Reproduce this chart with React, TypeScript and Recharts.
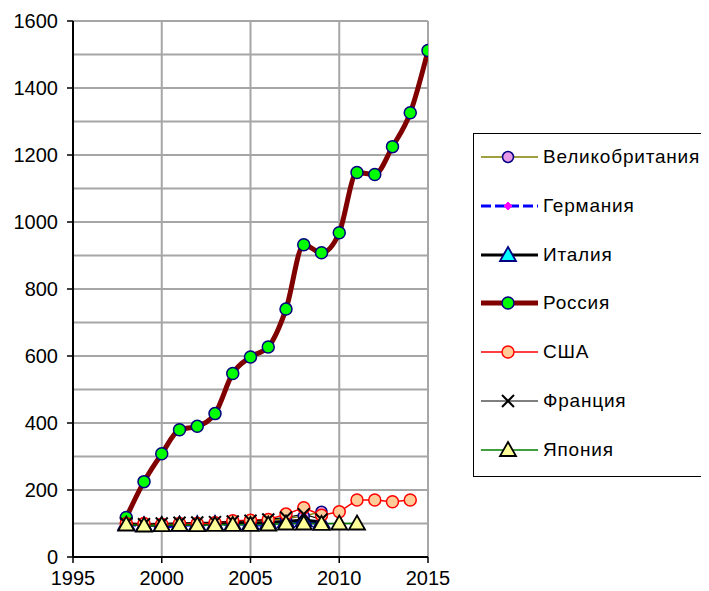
import React from 'react';
import { LineChart, Line, XAxis, YAxis, CartesianGrid } from 'recharts';

const years = [1998, 1999, 2000, 2001, 2002, 2003, 2004, 2005, 2006, 2007, 2008, 2009, 2010, 2011, 2012, 2013, 2014, 2015];

const uk = [100, 98, 97, 99, 100, 101, 104, 107, 110, 115, 122, 135];
const germany = [100, 90, 88, 95, 96, 97, 98, 99, 92, 100, 105, 100];
const italy = [100, 95, 95, 97, 98, 99, 100, 101, 103, 107, 110, 105];
const russia = [118, 225, 308, 380, 390, 428, 548, 597, 627, 740, 932, 908, 968, 1148, 1142, 1225, 1326, 1512];
const usa = [100, 100, 98, 100, 100, 102, 108, 110, 112, 128, 147, 125, 135, 170, 170, 165, 170];
const france = [100, 98, 100, 102, 103, 104, 106, 108, 112, 118, 128, 112];
const japan = [97, 94, 95, 96, 95, 96, 96, 96, 97, 100, 100, 99, 100, 100];

const xTicks = [1995, 2000, 2005, 2010, 2015];
const yTicks = [0, 200, 400, 600, 800, 1000, 1200, 1400, 1600];
const gridX = [2000, 2005, 2010, 2015];
const gridY = [100, 200, 300, 400, 500, 600, 700, 800, 900, 1000, 1100, 1200, 1300, 1400, 1500, 1600];

const data = years.map((year, i) => ({
    year,
    uk: uk[i],
    germany: germany[i],
    italy: italy[i],
    russia: russia[i],
    usa: usa[i],
    france: france[i],
    japan: japan[i],
}));

type MarkerKind = 'circle' | 'diamond' | 'triangle' | 'cross';

interface SeriesStyle {
    key: string;
    name: string;
    stroke: string;
    width: number;
    dash?: string;
    marker: MarkerKind;
    fill: string;
    edge: string;
    size: number;
    smooth?: boolean;
}

const FONT = '"Liberation Sans", Arial, sans-serif';

const SERIES: SeriesStyle[] = [
    { key: 'uk', name: 'Великобритания', stroke: '#808000', width: 1.5, marker: 'circle', fill: '#e699e6', edge: '#000080', size: 5.5 },
    { key: 'germany', name: 'Германия', stroke: '#0000ff', width: 3, dash: '10 4', marker: 'diamond', fill: '#ff00ff', edge: '#ff00ff', size: 4 },
    { key: 'italy', name: 'Италия', stroke: '#000000', width: 3, marker: 'triangle', fill: '#00ffff', edge: '#000080', size: 8 },
    { key: 'russia', name: 'Россия', stroke: '#800000', width: 5, marker: 'circle', fill: '#00ff00', edge: '#000080', size: 6, smooth: true },
    { key: 'usa', name: 'США', stroke: '#ff0000', width: 1.5, marker: 'circle', fill: '#ffcc99', edge: '#ff0000', size: 6 },
    { key: 'france', name: 'Франция', stroke: '#000000', width: 1.2, marker: 'cross', fill: 'none', edge: '#000000', size: 6 },
    { key: 'japan', name: 'Япония', stroke: '#008000', width: 1.5, marker: 'triangle', fill: '#ffff99', edge: '#000000', size: 8 },
];

const Marker = ({ s, cx, cy }: { s: SeriesStyle; cx: number; cy: number }) => {
    const r = s.size;
    if (s.marker === 'circle') {
        return <circle cx={cx} cy={cy} r={r} fill={s.fill} stroke={s.edge} strokeWidth={1.5} />;
    }
    if (s.marker === 'diamond') {
        return <polygon points={`${cx},${cy - r} ${cx + r},${cy} ${cx},${cy + r} ${cx - r},${cy}`} fill={s.fill} stroke={s.edge} />;
    }
    if (s.marker === 'triangle') {
        return (
            <polygon
                points={`${cx},${cy - r} ${cx + r},${cy + r * 0.75} ${cx - r},${cy + r * 0.75}`}
                fill={s.fill}
                stroke={s.edge}
                strokeWidth={1.8}
            />
        );
    }
    return (
        <g stroke={s.edge} strokeWidth={2}>
            <line x1={cx - r} y1={cy - r} x2={cx + r} y2={cy + r} />
            <line x1={cx - r} y1={cy + r} x2={cx + r} y2={cy - r} />
        </g>
    );
};

const Legend = () => (
    <div
        style={{
            position: 'absolute',
            left: 465,
            top: 125,
            width: 250,
            height: 342,
            border: '1.5px solid #000',
            background: '#fff',
            fontFamily: FONT,
            fontSize: 19,
        }}
    >
        {SERIES.map((s, i) => (
            <div key={s.key} style={{ position: 'absolute', left: 6, top: 10 + i * 48.8, height: 26, display: 'flex', alignItems: 'center' }}>
                <svg width={60} height={26}>
                    <line x1={1} y1={13} x2={58} y2={13} stroke={s.stroke} strokeWidth={s.width} strokeDasharray={s.dash} />
                    <Marker s={s} cx={28} cy={13} />
                </svg>
                <span style={{ marginLeft: 3, letterSpacing: 0.8, whiteSpace: 'nowrap' }}>{s.name}</span>
            </div>
        ))}
    </div>
);

const App: React.FC = () => {
    return (
        <div style={{ position: 'relative', width: 701, height: 583, overflow: 'hidden', background: '#fff' }}>
            <LineChart width={460} height={583} data={data} margin={{ top: 13, right: 40, left: 0, bottom: 4 }}>
                <CartesianGrid
                    stroke="#a6a6a6"
                    strokeWidth={2}
                    horizontalValues={gridY}
                    verticalValues={gridX}
                />
                <XAxis
                    dataKey="year"
                    type="number"
                    domain={[1995, 2015]}
                    ticks={xTicks}
                    allowDataOverflow
                    height={30}
                    tickSize={6}
                    tickMargin={8}
                    axisLine={{ stroke: '#000', strokeWidth: 2 }}
                    tickLine={{ stroke: '#000', strokeWidth: 1.5 }}
                    tick={{ fill: '#000', fontSize: 20, fontFamily: FONT }}
                />
                <YAxis
                    type="number"
                    domain={[0, 1600]}
                    ticks={yTicks}
                    width={65}
                    tickSize={6}
                    tickMargin={9}
                    axisLine={{ stroke: '#000', strokeWidth: 2 }}
                    tickLine={{ stroke: '#000', strokeWidth: 1.5 }}
                    tick={{ fill: '#000', fontSize: 20, fontFamily: FONT }}
                />
                {SERIES.map((s) => (
                    <Line
                        key={s.key}
                        dataKey={s.key}
                        name={s.name}
                        type={s.smooth ? 'monotone' : 'linear'}
                        stroke={s.stroke}
                        strokeWidth={s.width}
                        strokeDasharray={s.dash}
                        isAnimationActive={false}
                        activeDot={false}
                        dot={(p: any) =>
                            p.value == null || p.cy == null || isNaN(p.cy) ? (
                                <g key={`${s.key}-${p.index}`} />
                            ) : (
                                <Marker key={`${s.key}-${p.index}`} s={s} cx={p.cx} cy={p.cy} />
                            )
                        }
                    />
                ))}
            </LineChart>
            <Legend />
        </div>
    );
};

export default App;
